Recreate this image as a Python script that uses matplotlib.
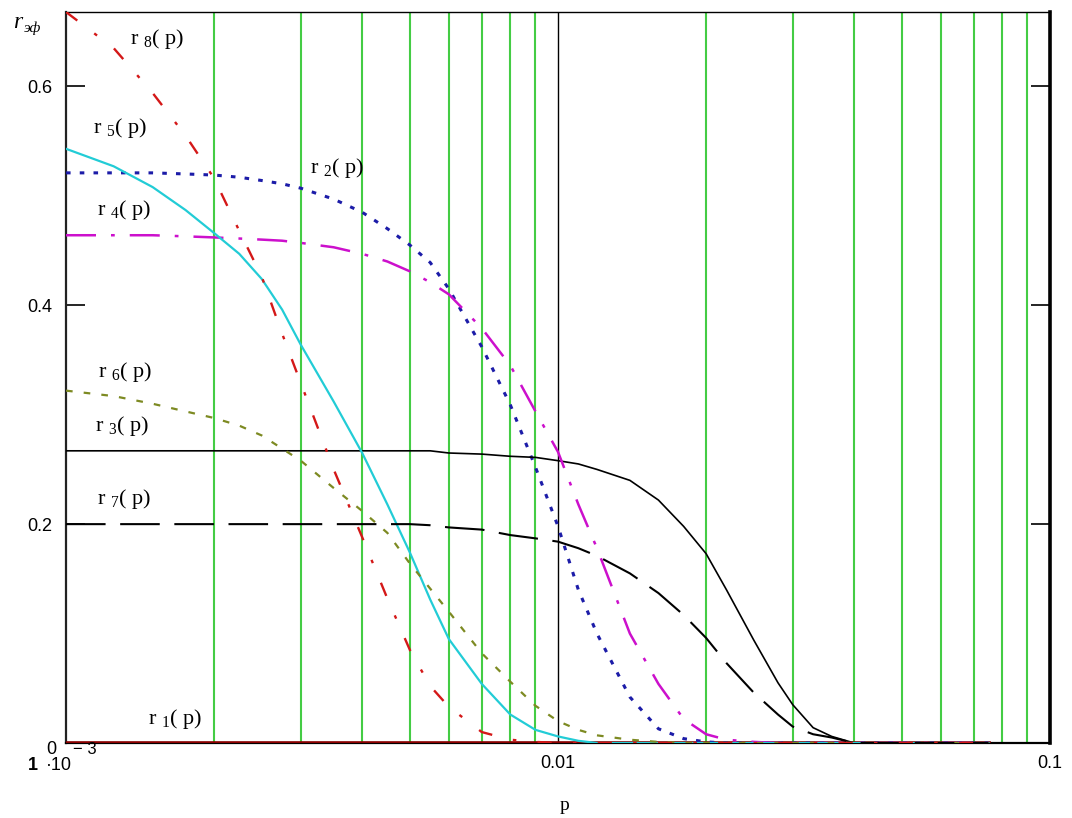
import matplotlib
matplotlib.use("Agg")
import matplotlib.pyplot as plt
from matplotlib.ticker import NullLocator

# sample points of p, shared by every trace
p = [1e-3, 1.25e-3, 1.5e-3, 1.75e-3, 2e-3, 2.25e-3, 2.5e-3, 2.75e-3, 3e-3, 3.5e-3,
     4e-3, 4.5e-3, 5e-3, 5.5e-3, 6e-3, 7e-3, 8e-3, 9e-3, 1e-2, 1.1e-2, 1.2e-2,
     1.4e-2, 1.6e-2, 1.8e-2, 2e-2, 2.2e-2, 2.5e-2, 2.8e-2, 3e-2, 3.3e-2, 3.6e-2,
     4e-2, 4.5e-2, 5e-2, 6e-2, 7.5e-2]

r1 = [0.0] * 36
r2 = [0.521, 0.521, 0.521, 0.520, 0.519, 0.517, 0.514, 0.511, 0.507, 0.497,
      0.485, 0.470, 0.455, 0.439, 0.415, 0.362, 0.309, 0.252, 0.198, 0.140, 0.100,
      0.042, 0.013, 0.004, 0.001] + [0] * 11
r3 = [0.267] * 14 + [0.265, 0.264, 0.262, 0.261, 0.258, 0.255, 0.250,
      0.240, 0.222, 0.198, 0.173, 0.140, 0.094, 0.055, 0.035, 0.014, 0.006] + [0] * 5
r4 = [0.464, 0.464, 0.464, 0.463, 0.462, 0.461, 0.460, 0.459, 0.457, 0.453,
      0.447, 0.440, 0.431, 0.421, 0.410, 0.379, 0.345, 0.303, 0.266, 0.218, 0.178,
      0.100, 0.054, 0.022, 0.008, 0.003, 0.001] + [0] * 9
r5 = [0.543, 0.527, 0.508, 0.487, 0.466, 0.447, 0.424, 0.396, 0.364, 0.312,
      0.265, 0.218, 0.174, 0.131, 0.095, 0.054, 0.026, 0.012, 0.006, 0.002] + [0] * 16
r6 = [0.322, 0.317, 0.310, 0.303, 0.297, 0.290, 0.281, 0.269, 0.258, 0.233,
      0.212, 0.192, 0.164, 0.141, 0.120, 0.082, 0.056, 0.034, 0.020, 0.012, 0.007,
      0.003, 0.001] + [0] * 13
r7 = [0.200] * 13 + [0.199, 0.197, 0.195, 0.190, 0.187, 0.184, 0.178, 0.171,
      0.155, 0.137, 0.117, 0.096, 0.073, 0.046, 0.026, 0.015, 0.008, 0.005] + [0] * 5
r8 = [0.668, 0.635, 0.594, 0.555, 0.516, 0.468, 0.426, 0.374, 0.329, 0.250,
      0.188, 0.132, 0.085, 0.052, 0.033, 0.010, 0.003, 0.001] + [0] * 18

grid_p = [2e-3, 3e-3, 4e-3, 5e-3, 6e-3, 7e-3, 8e-3, 9e-3,
          2e-2, 3e-2, 4e-2, 5e-2, 6e-2, 7e-2, 8e-2, 9e-2]

names = ['r1', 'r2', 'r3', 'r4', 'r5', 'r6', 'r7', 'r8']
series = [r1, r2, r3, r4, r5, r6, r7, r8]
# label anchor (p, value) for each trace name
label_p = [1.47e-3, 3.13e-3, 1.145e-3, 1.156e-3, 1.135e-3, 1.162e-3, 1.156e-3, 1.349e-3]
label_v = [0.022, 0.525, 0.290, 0.487, 0.562, 0.339, 0.223, 0.643]

styles = [
    dict(color='#8b0000', lw=2.6, ls='-'),
    dict(color='#1c1ca8', lw=2.2, ls=(0, (1.5, 3))),
    dict(color='black', lw=1.2, ls='-'),
    dict(color='#cc10cc', lw=1.8, ls=(0, (12, 6, 1.5, 6))),
    dict(color='#22ccd6', lw=1.6, ls='-'),
    dict(color='#7d8a22', lw=1.6, ls=(0, (3, 5))),
    dict(color='black', lw=1.5, ls=(0, (19, 7))),
    dict(color='#d41818', lw=1.7, ls=(0, (6, 9, 1.5, 9))),
]

plt.rcParams['mathtext.fontset'] = 'custom'
plt.rcParams['mathtext.rm'] = 'Liberation Serif'
plt.rcParams['mathtext.it'] = 'Liberation Serif:italic'

fig = plt.figure(figsize=(10.72, 8.18), dpi=100)
ax = fig.add_axes([66 / 1072, 75 / 818, 984 / 1072, 731 / 818])
ax.set_xscale('log')
ax.set_xlim(1e-3, 0.1)
ax.set_ylim(0, 0.668)

for g in grid_p:
    ax.axvline(g, color='#44cc44', lw=1.5, zorder=1)
ax.axvline(0.01, color='black', lw=1.0, zorder=1)

for name, vals, st in zip(names, series, styles):
    ax.plot(p, vals, color=st['color'], lw=st['lw'], linestyle=st['ls'], zorder=3)

for name, lp, lv in zip(names, label_p, label_v):
    ax.text(lp, lv, 'r $_{%s}$( p)' % name[1:], fontsize=16, family='Liberation Serif',
            ha='left', va='center', zorder=5)

ax.xaxis.set_minor_locator(NullLocator())
ax.set_xticks([1e-2, 1e-1])
ax.set_xticklabels(['0.01', '0.1'])
ax.set_yticks([0.2, 0.4, 0.6])
ax.set_yticklabels(['0.2', '0.4', '0.6'])
ax.tick_params(axis='x', length=0, pad=9, labelsize=13)
ax.tick_params(axis='y', direction='in', length=14, width=1.2, pad=10, labelsize=13,
               left=True, right=True)
for lab in ax.get_xticklabels() + ax.get_yticklabels():
    lab.set_family('Liberation Sans')

for side, w in [('left', 1.6), ('bottom', 1.6), ('right', 2.6), ('top', 1.0)]:
    ax.spines[side].set_linewidth(w)
    ax.spines[side].set_color('#222222' if side == 'left' else 'black')

# special labels at the origin corner
fig.text(51 / 1072, 1 - 749 / 818, '0', fontsize=13, family='Liberation Sans',
         ha='center', va='center')
fig.text(28 / 1072, 1 - 766 / 818, '1', fontsize=13, family='Liberation Sans',
         fontweight='bold', ha='left', va='center')
fig.text(46 / 1072, 1 - 766 / 818, '\u00b710', fontsize=13, family='Liberation Sans',
         ha='left', va='center')
fig.text(73 / 1072, 1 - 750 / 818, '\u2212 3', fontsize=12, family='Liberation Sans',
         ha='left', va='center')

# axis titles
fig.text(13 / 1072, 1 - 22 / 818, 'r', fontsize=17, family='Liberation Serif',
         style='italic', ha='left', va='center')
fig.text(24 / 1072, 1 - 28 / 818, '\u044d\u0444', fontsize=11, family='Liberation Serif',
         style='italic', ha='left', va='center')
fig.text(564 / 1072, 1 - 805 / 818, 'p', fontsize=14, family='Liberation Serif',
         ha='center', va='center')

fig.savefig('out.png', dpi=100)
